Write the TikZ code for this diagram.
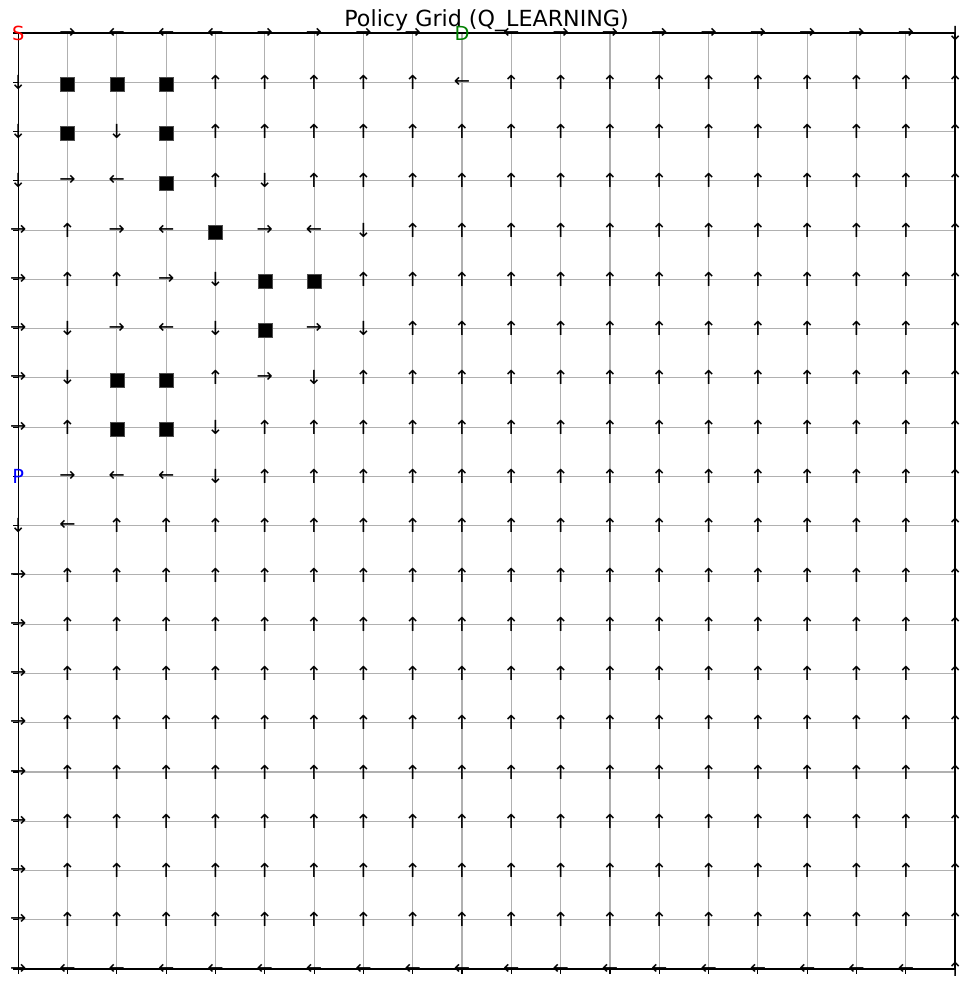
\documentclass[tikz,border=0pt]{standalone}
\usepackage{fontspec}
\newfontfamily\djfam{DejaVu Sans}
\definecolor{gridgray}{HTML}{B0B0B0}
\definecolor{mplgreen}{HTML}{008000}
\tikzset{
  gridline/.style={draw=gridgray, line width=1.1pt},
  spine/.style={draw=black, line width=1.1pt},
  tickmark/.style={draw=black, line width=1.1pt},
  arr/.style={font={\djfam\fontsize{19.4}{20}\selectfont}, inner sep=0pt, anchor=center},
  mk r/.style={arr, node contents={→}},
  mk l/.style={arr, node contents={←}},
  mk u/.style={arr, node contents={↑}},
  mk d/.style={arr, node contents={↓}},
  mk w/.style={fill=black, draw=black!70, line width=0.4pt, minimum size=14pt, inner sep=0pt, yshift=-2pt, node contents={}},
  mk S/.style={arr, text=red, node contents={S}},
  mk D/.style={arr, text=mplgreen, node contents={D}},
  mk P/.style={arr, text=blue, node contents={P}},
  titlestyle/.style={font={\djfam\fontsize{22.2}{24}\selectfont}, inner sep=0pt, anchor=base}
}
\newcommand\prow[2]{%
  \foreach \code [count=\ci from 0] in {#2}{%
    \node (n-#1-\ci) at ({18.2+\ci*49.316},{33+#1*49.263}) [mk \code];
  }%
}
\begin{document}
\begin{tikzpicture}[x=1pt,y=-1pt]
  \fill[white] (0,0) rectangle (972,989);
  \useasboundingbox (0,0) rectangle (972,989);
  % grid lines
  \foreach \i in {0,...,19}{
    \draw[gridline] ({18.2+\i*49.316},33) -- ({18.2+\i*49.316},969);
    \draw[gridline] (18.2,{33+\i*49.263}) -- (955,{33+\i*49.263});
  }
  % ticks
  \foreach \i in {0,...,19}{
    \draw[tickmark] ({18.2+\i*49.316},969) -- ({18.2+\i*49.316},973.9);
    \draw[tickmark] (18.2,{33+\i*49.263}) -- (13.3,{33+\i*49.263});
  }
  % spines
  \draw[spine] (18.2,33) rectangle (955,969);
  % title
  \node[titlestyle] (title) at (486.6,26) {Policy Grid (Q\_LEARNING)};
  % policy cells
  \prow{0}{S,r,l,l,l,r,r,r,r,D,l,r,r,r,r,r,r,r,r,d}
  \prow{1}{d,w,w,w,u,u,u,u,u,l,u,u,u,u,u,u,u,u,u,u}
  \prow{2}{d,w,d,w,u,u,u,u,u,u,u,u,u,u,u,u,u,u,u,u}
  \prow{3}{d,r,l,w,u,d,u,u,u,u,u,u,u,u,u,u,u,u,u,u}
  \prow{4}{r,u,r,l,w,r,l,d,u,u,u,u,u,u,u,u,u,u,u,u}
  \prow{5}{r,u,u,r,d,w,w,u,u,u,u,u,u,u,u,u,u,u,u,u}
  \prow{6}{r,d,r,l,d,w,r,d,u,u,u,u,u,u,u,u,u,u,u,u}
  \prow{7}{r,d,w,w,u,r,d,u,u,u,u,u,u,u,u,u,u,u,u,u}
  \prow{8}{r,u,w,w,d,u,u,u,u,u,u,u,u,u,u,u,u,u,u,u}
  \prow{9}{P,r,l,l,d,u,u,u,u,u,u,u,u,u,u,u,u,u,u,u}
  \prow{10}{d,l,u,u,u,u,u,u,u,u,u,u,u,u,u,u,u,u,u,u}
  \prow{11}{r,u,u,u,u,u,u,u,u,u,u,u,u,u,u,u,u,u,u,u}
  \prow{12}{r,u,u,u,u,u,u,u,u,u,u,u,u,u,u,u,u,u,u,u}
  \prow{13}{r,u,u,u,u,u,u,u,u,u,u,u,u,u,u,u,u,u,u,u}
  \prow{14}{r,u,u,u,u,u,u,u,u,u,u,u,u,u,u,u,u,u,u,u}
  \prow{15}{r,u,u,u,u,u,u,u,u,u,u,u,u,u,u,u,u,u,u,u}
  \prow{16}{r,u,u,u,u,u,u,u,u,u,u,u,u,u,u,u,u,u,u,u}
  \prow{17}{r,u,u,u,u,u,u,u,u,u,u,u,u,u,u,u,u,u,u,u}
  \prow{18}{r,u,u,u,u,u,u,u,u,u,u,u,u,u,u,u,u,u,u,u}
  \prow{19}{r,l,l,l,l,l,l,l,l,l,l,l,l,l,l,l,l,l,l,u}
\end{tikzpicture}
\end{document}
